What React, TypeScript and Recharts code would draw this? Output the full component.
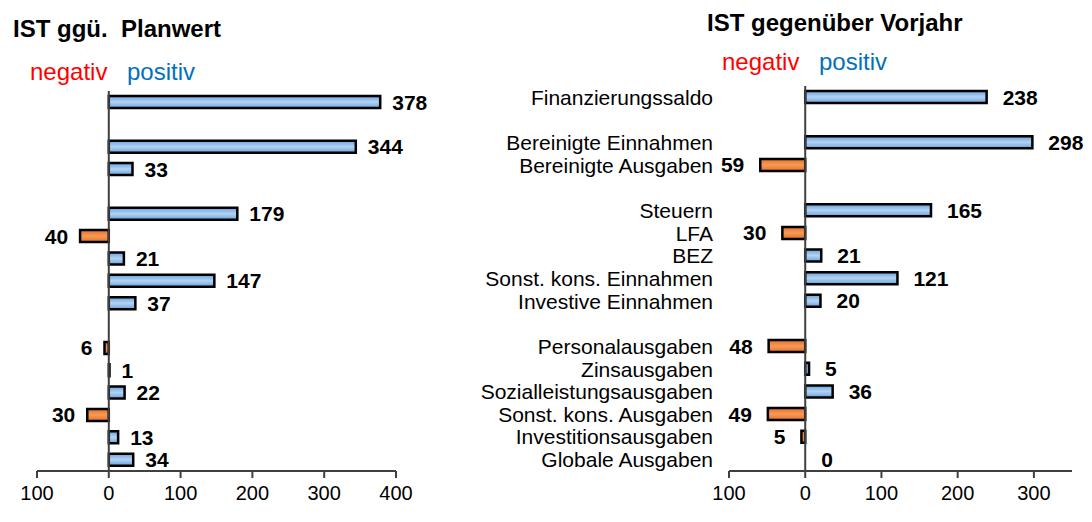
import React from 'react';
import {
  BarChart,
  Bar,
  XAxis,
  YAxis,
  Cell,
  ReferenceLine,
  LabelList,
} from 'recharts';

// row labels, blank strings are the gaps between groups
const categories = [
  'Finanzierungssaldo',
  '',
  'Bereinigte Einnahmen',
  'Bereinigte Ausgaben',
  '',
  'Steuern',
  'LFA',
  'BEZ',
  'Sonst. kons. Einnahmen',
  'Investive Einnahmen',
  '',
  'Personalausgaben',
  'Zinsausgaben',
  'Sozialleistungsausgaben',
  'Sonst. kons. Ausgaben',
  'Investitionsausgaben',
  'Globale Ausgaben',
];

const planValues = [378, null, 344, 33, null, 179, -40, 21, 147, 37, null, -6, 1, 22, -30, 13, 34];
const vorjahrValues = [238, null, 298, -59, null, 165, -30, 21, 121, 20, null, -48, 5, 36, -49, -5, 0];

const planTicks = [-100, 0, 100, 200, 300, 400];
const vorjahrTicks = [-100, 0, 100, 200, 300];

const FONT = '"Liberation Sans", Arial, sans-serif';

const toRows = (values: (number | null)[]) =>
  categories.map((name, idx) => ({ idx, name, value: values[idx] }));

const makeLabel = (offset: number) => (props: any) => {
  const { x, y, width, height, value } = props;
  if (value === null || value === undefined) return null;
  const left = Math.min(x, x + width);
  const right = Math.max(x, x + width);
  const neg = value < 0;
  return (
    <text
      x={neg ? left - offset : right + offset}
      y={y + height / 2}
      textAnchor={neg ? 'end' : 'start'}
      dominantBaseline="central"
      fontSize={21}
      fontWeight="bold"
      fill="#000"
      fontFamily={FONT}
    >
      {Math.abs(value)}
    </text>
  );
};

const Gradients = () => (
  <defs>
    <linearGradient id="blueFill" x1="0" y1="0" x2="0" y2="1">
      <stop offset="0%" stopColor="#6aa2dc" />
      <stop offset="50%" stopColor="#b3d3f3" />
      <stop offset="100%" stopColor="#6aa2dc" />
    </linearGradient>
    <linearGradient id="orangeFill" x1="0" y1="0" x2="0" y2="1">
      <stop offset="0%" stopColor="#e4702a" />
      <stop offset="50%" stopColor="#f89a55" />
      <stop offset="100%" stopColor="#e4702a" />
    </linearGradient>
  </defs>
);

interface PanelProps {
  values: (number | null)[];
  ticks: number[];
  domain: [number, number];
  width: number;
  margin: { top: number; right: number; left: number; bottom: number };
  yWidth: number;
  showNames: boolean;
  labelOffset: number;
}

const Panel = ({ values, ticks, domain, width, margin, yWidth, showNames, labelOffset }: PanelProps) => {
  const data = toRows(values);
  return (
    <BarChart width={width} height={522} data={data} layout="vertical" margin={margin} barCategoryGap={0}>
      <Gradients />
      <XAxis
        type="number"
        domain={domain}
        ticks={ticks}
        allowDataOverflow
        height={30}
        tickSize={7}
        tickMargin={8}
        tickFormatter={(v: number) => String(Math.abs(v))}
        axisLine={{ stroke: '#404040', strokeWidth: 2 }}
        tickLine={{ stroke: '#404040', strokeWidth: 2 }}
        tick={{ fill: '#000', fontSize: 20, fontFamily: FONT }}
      />
      <YAxis
        type="category"
        dataKey="idx"
        hide={!showNames}
        width={yWidth}
        interval={0}
        axisLine={false}
        tickLine={false}
        tickSize={0}
        tickMargin={16}
        tickFormatter={(i: number) => categories[i]}
        tick={{ fill: '#000', fontSize: 21, fontFamily: FONT }}
      />
      <ReferenceLine x={0} stroke="#404040" strokeWidth={2} />
      <Bar
        dataKey="value"
        barSize={12}
        stroke="#000"
        strokeWidth={2.5}
        minPointSize={(v: number) => (v === 0 ? 0.01 : 0)}
        isAnimationActive={false}
      >
        {data.map((d) => (
          <Cell
            key={d.idx}
            fill={d.value !== null && d.value < 0 ? 'url(#orangeFill)' : 'url(#blueFill)'}
            stroke={d.value === 0 ? 'none' : '#000'}
          />
        ))}
        <LabelList dataKey="value" content={makeLabel(labelOffset)} />
      </Bar>
    </BarChart>
  );
};

const textStyle = (left: number, top: number, color: string, bold = false): React.CSSProperties => ({
  position: 'absolute',
  left,
  top,
  fontSize: 24,
  lineHeight: 1,
  fontWeight: bold ? 'bold' : 'normal',
  color,
  fontFamily: FONT,
  whiteSpace: 'pre',
});

export default function App() {
  return (
    <div
      style={{
        position: 'absolute',
        left: 0,
        top: 0,
        width: 1092,
        height: 522,
        background: '#fff',
        overflow: 'hidden',
        fontFamily: FONT,
      }}
    >
      <div style={{ position: 'absolute', left: 0, top: 0 }}>
        <Panel
          values={planValues}
          ticks={planTicks}
          domain={[-100, 400]}
          width={440}
          margin={{ top: 91, right: 44, left: 37, bottom: 21 }}
          yWidth={0}
          showNames={false}
          labelOffset={12}
        />
      </div>
      <div style={{ position: 'absolute', left: 450, top: 0 }}>
        <Panel
          values={vorjahrValues}
          ticks={vorjahrTicks}
          domain={[-100, 350]}
          width={642}
          margin={{ top: 86, right: 20, left: 0, bottom: 21 }}
          yWidth={279}
          showNames
          labelOffset={16}
        />
      </div>
      <div style={textStyle(13, 17, '#000', true)}>{'IST ggü.  Planwert'}</div>
      <div style={textStyle(30, 60, '#ff0000')}>negativ</div>
      <div style={textStyle(127, 60, '#0070c0')}>positiv</div>
      <div style={textStyle(707, 11, '#000', true)}>IST gegenüber Vorjahr</div>
      <div style={textStyle(722, 50, '#ff0000')}>negativ</div>
      <div style={textStyle(819, 50, '#0070c0')}>positiv</div>
    </div>
  );
}
